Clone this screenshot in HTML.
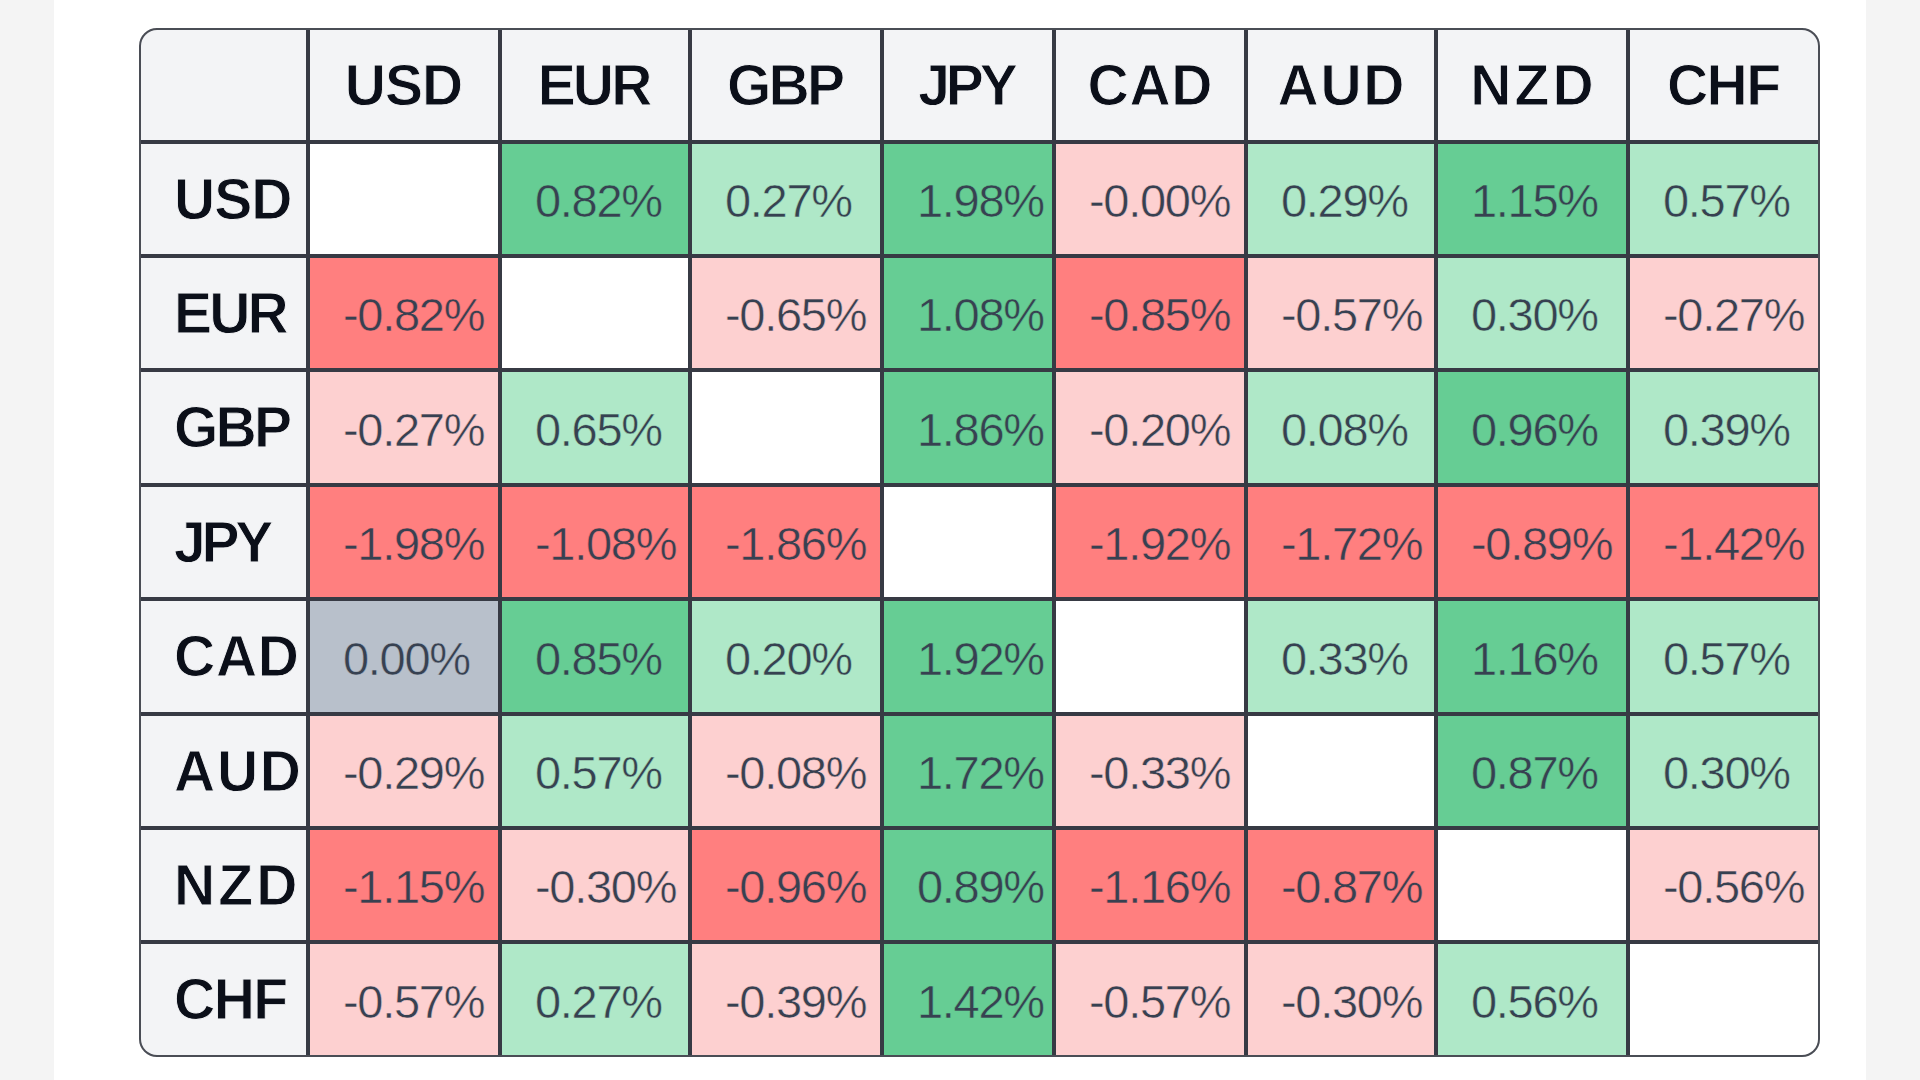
<!DOCTYPE html><html><head><meta charset="utf-8"><style>
html,body{margin:0;padding:0}
body{width:1920px;height:1080px;background:#f4f4f4;position:relative;overflow:hidden;font-family:"Liberation Sans",sans-serif}
.panel{position:absolute;left:54px;top:0;width:1812px;height:1080px;background:#fff}
.tbl{position:absolute;left:139px;top:28px;width:1681px;height:1029px;box-sizing:border-box;border:2px solid #4a4d55;border-radius:18px;background:#373a44;overflow:hidden}
.c{position:absolute;box-sizing:border-box;white-space:nowrap}
.h{-webkit-text-stroke:0.9px #f3f4f6;background:#f3f4f6;color:#0b0f19;font-weight:bold;font-size:57px;letter-spacing:-2px;text-align:center}
.l{-webkit-text-stroke:0.9px #f3f4f6;background:#f3f4f6;color:#0b0f19;font-weight:bold;font-size:57px;letter-spacing:-2px;padding-left:33px}
.v{color:#374151;font-size:47px;letter-spacing:-1.3px;padding-left:33px}
.v span{}
.G{background:#66cd94;-webkit-text-stroke:0.5px #66cd94}.g{background:#afe8c8;-webkit-text-stroke:0.5px #afe8c8}.R{background:#ff7f7f;-webkit-text-stroke:0.5px #ff7f7f}.r{background:#fdd0d0;-webkit-text-stroke:0.5px #fdd0d0}.n{background:#b8c0cb;-webkit-text-stroke:0.5px #b8c0cb}.w{background:#fff}

</style></head><body><div class="panel"></div><div class="tbl">
<div class="c h" style="left:0px;top:0px;width:165px;height:110px;line-height:110px"><span style="letter-spacing:-2px;position:relative;left:-1.0px"></span></div>
<div class="c h" style="left:169px;top:0px;width:188px;height:110px;line-height:110px"><span style="letter-spacing:-1.0px;position:relative;left:-0.5px">USD</span></div>
<div class="c h" style="left:361px;top:0px;width:186px;height:110px;line-height:110px"><span style="letter-spacing:-2.8px;position:relative;left:-1.4px">EUR</span></div>
<div class="c h" style="left:551px;top:0px;width:188px;height:110px;line-height:110px"><span style="letter-spacing:-2.8px;position:relative;left:-1.4px">GBP</span></div>
<div class="c h" style="left:743px;top:0px;width:168px;height:110px;line-height:110px"><span style="letter-spacing:-4.2px;position:relative;left:-2.1px">JPY</span></div>
<div class="c h" style="left:915px;top:0px;width:188px;height:110px;line-height:110px"><span style="letter-spacing:0.75px;position:relative;left:0.375px">CAD</span></div>
<div class="c h" style="left:1107px;top:0px;width:186px;height:110px;line-height:110px"><span style="letter-spacing:1.75px;position:relative;left:0.875px">AUD</span></div>
<div class="c h" style="left:1297px;top:0px;width:188px;height:110px;line-height:110px"><span style="letter-spacing:3.1px;position:relative;left:1.55px">NZD</span></div>
<div class="c h" style="left:1489px;top:0px;width:188px;height:110px;line-height:110px"><span style="letter-spacing:-1.5px;position:relative;left:-0.75px">CHF</span></div>
<div class="c l" style="left:0px;top:114px;width:165px;height:110px;line-height:110px"><span style="letter-spacing:-1.0px;position:relative;left:0px">USD</span></div>
<div class="c w" style="left:169px;top:114px;width:188px;height:110px;"></div>
<div class="c v G" style="left:361px;top:114px;width:186px;height:110px;line-height:114px">0.82%</div>
<div class="c v g" style="left:551px;top:114px;width:188px;height:110px;line-height:114px">0.27%</div>
<div class="c v G" style="left:743px;top:114px;width:168px;height:110px;line-height:114px">1.98%</div>
<div class="c v r" style="left:915px;top:114px;width:188px;height:110px;line-height:114px">-0.00%</div>
<div class="c v g" style="left:1107px;top:114px;width:186px;height:110px;line-height:114px">0.29%</div>
<div class="c v G" style="left:1297px;top:114px;width:188px;height:110px;line-height:114px">1.15%</div>
<div class="c v g" style="left:1489px;top:114px;width:188px;height:110px;line-height:114px">0.57%</div>
<div class="c l" style="left:0px;top:228px;width:165px;height:110px;line-height:110px"><span style="letter-spacing:-2.8px;position:relative;left:0px">EUR</span></div>
<div class="c v R" style="left:169px;top:228px;width:188px;height:110px;line-height:114px">-0.82%</div>
<div class="c w" style="left:361px;top:228px;width:186px;height:110px;"></div>
<div class="c v r" style="left:551px;top:228px;width:188px;height:110px;line-height:114px">-0.65%</div>
<div class="c v G" style="left:743px;top:228px;width:168px;height:110px;line-height:114px">1.08%</div>
<div class="c v R" style="left:915px;top:228px;width:188px;height:110px;line-height:114px">-0.85%</div>
<div class="c v r" style="left:1107px;top:228px;width:186px;height:110px;line-height:114px">-0.57%</div>
<div class="c v g" style="left:1297px;top:228px;width:188px;height:110px;line-height:114px">0.30%</div>
<div class="c v r" style="left:1489px;top:228px;width:188px;height:110px;line-height:114px">-0.27%</div>
<div class="c l" style="left:0px;top:342px;width:165px;height:111px;line-height:111px"><span style="letter-spacing:-2.8px;position:relative;left:0px">GBP</span></div>
<div class="c v r" style="left:169px;top:342px;width:188px;height:111px;line-height:115px">-0.27%</div>
<div class="c v g" style="left:361px;top:342px;width:186px;height:111px;line-height:115px">0.65%</div>
<div class="c w" style="left:551px;top:342px;width:188px;height:111px;"></div>
<div class="c v G" style="left:743px;top:342px;width:168px;height:111px;line-height:115px">1.86%</div>
<div class="c v r" style="left:915px;top:342px;width:188px;height:111px;line-height:115px">-0.20%</div>
<div class="c v g" style="left:1107px;top:342px;width:186px;height:111px;line-height:115px">0.08%</div>
<div class="c v G" style="left:1297px;top:342px;width:188px;height:111px;line-height:115px">0.96%</div>
<div class="c v g" style="left:1489px;top:342px;width:188px;height:111px;line-height:115px">0.39%</div>
<div class="c l" style="left:0px;top:457px;width:165px;height:110px;line-height:110px"><span style="letter-spacing:-4.2px;position:relative;left:0px">JPY</span></div>
<div class="c v R" style="left:169px;top:457px;width:188px;height:110px;line-height:114px">-1.98%</div>
<div class="c v R" style="left:361px;top:457px;width:186px;height:110px;line-height:114px">-1.08%</div>
<div class="c v R" style="left:551px;top:457px;width:188px;height:110px;line-height:114px">-1.86%</div>
<div class="c w" style="left:743px;top:457px;width:168px;height:110px;"></div>
<div class="c v R" style="left:915px;top:457px;width:188px;height:110px;line-height:114px">-1.92%</div>
<div class="c v R" style="left:1107px;top:457px;width:186px;height:110px;line-height:114px">-1.72%</div>
<div class="c v R" style="left:1297px;top:457px;width:188px;height:110px;line-height:114px">-0.89%</div>
<div class="c v R" style="left:1489px;top:457px;width:188px;height:110px;line-height:114px">-1.42%</div>
<div class="c l" style="left:0px;top:571px;width:165px;height:111px;line-height:111px"><span style="letter-spacing:0.75px;position:relative;left:0px">CAD</span></div>
<div class="c v n" style="left:169px;top:571px;width:188px;height:111px;line-height:115px">0.00%</div>
<div class="c v G" style="left:361px;top:571px;width:186px;height:111px;line-height:115px">0.85%</div>
<div class="c v g" style="left:551px;top:571px;width:188px;height:111px;line-height:115px">0.20%</div>
<div class="c v G" style="left:743px;top:571px;width:168px;height:111px;line-height:115px">1.92%</div>
<div class="c w" style="left:915px;top:571px;width:188px;height:111px;"></div>
<div class="c v g" style="left:1107px;top:571px;width:186px;height:111px;line-height:115px">0.33%</div>
<div class="c v G" style="left:1297px;top:571px;width:188px;height:111px;line-height:115px">1.16%</div>
<div class="c v g" style="left:1489px;top:571px;width:188px;height:111px;line-height:115px">0.57%</div>
<div class="c l" style="left:0px;top:686px;width:165px;height:110px;line-height:110px"><span style="letter-spacing:1.75px;position:relative;left:0px">AUD</span></div>
<div class="c v r" style="left:169px;top:686px;width:188px;height:110px;line-height:114px">-0.29%</div>
<div class="c v g" style="left:361px;top:686px;width:186px;height:110px;line-height:114px">0.57%</div>
<div class="c v r" style="left:551px;top:686px;width:188px;height:110px;line-height:114px">-0.08%</div>
<div class="c v G" style="left:743px;top:686px;width:168px;height:110px;line-height:114px">1.72%</div>
<div class="c v r" style="left:915px;top:686px;width:188px;height:110px;line-height:114px">-0.33%</div>
<div class="c w" style="left:1107px;top:686px;width:186px;height:110px;"></div>
<div class="c v G" style="left:1297px;top:686px;width:188px;height:110px;line-height:114px">0.87%</div>
<div class="c v g" style="left:1489px;top:686px;width:188px;height:110px;line-height:114px">0.30%</div>
<div class="c l" style="left:0px;top:800px;width:165px;height:110px;line-height:110px"><span style="letter-spacing:3.1px;position:relative;left:0px">NZD</span></div>
<div class="c v R" style="left:169px;top:800px;width:188px;height:110px;line-height:114px">-1.15%</div>
<div class="c v r" style="left:361px;top:800px;width:186px;height:110px;line-height:114px">-0.30%</div>
<div class="c v R" style="left:551px;top:800px;width:188px;height:110px;line-height:114px">-0.96%</div>
<div class="c v G" style="left:743px;top:800px;width:168px;height:110px;line-height:114px">0.89%</div>
<div class="c v R" style="left:915px;top:800px;width:188px;height:110px;line-height:114px">-1.16%</div>
<div class="c v R" style="left:1107px;top:800px;width:186px;height:110px;line-height:114px">-0.87%</div>
<div class="c w" style="left:1297px;top:800px;width:188px;height:110px;"></div>
<div class="c v r" style="left:1489px;top:800px;width:188px;height:110px;line-height:114px">-0.56%</div>
<div class="c l" style="left:0px;top:914px;width:165px;height:111px;line-height:111px"><span style="letter-spacing:-1.5px;position:relative;left:0px">CHF</span></div>
<div class="c v r" style="left:169px;top:914px;width:188px;height:111px;line-height:115px">-0.57%</div>
<div class="c v g" style="left:361px;top:914px;width:186px;height:111px;line-height:115px">0.27%</div>
<div class="c v r" style="left:551px;top:914px;width:188px;height:111px;line-height:115px">-0.39%</div>
<div class="c v G" style="left:743px;top:914px;width:168px;height:111px;line-height:115px">1.42%</div>
<div class="c v r" style="left:915px;top:914px;width:188px;height:111px;line-height:115px">-0.57%</div>
<div class="c v r" style="left:1107px;top:914px;width:186px;height:111px;line-height:115px">-0.30%</div>
<div class="c v g" style="left:1297px;top:914px;width:188px;height:111px;line-height:115px">0.56%</div>
<div class="c w" style="left:1489px;top:914px;width:188px;height:111px;"></div>
</div></body></html>
